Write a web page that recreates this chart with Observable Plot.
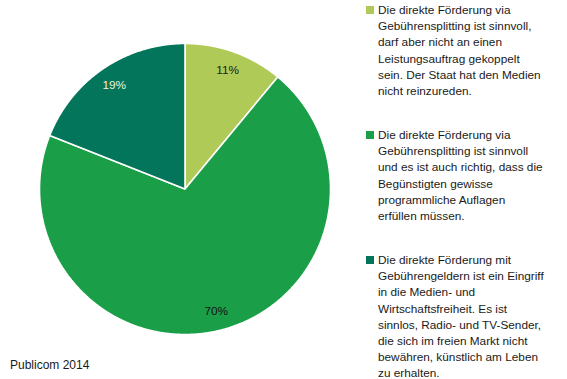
<!DOCTYPE html>
<html>
<head>
<meta charset="utf-8">
<script src="https://cdn.jsdelivr.net/npm/d3@7"></script>
<script src="https://cdn.jsdelivr.net/npm/@observablehq/plot@0.6"></script>
<style>
  html, body { margin: 0; padding: 0; background: #fff; }
  #wrap { position: relative; width: 567px; height: 379px; font-family: "Liberation Sans", Arial, sans-serif; color: #1a1a1a; }
  #wrap svg { position: absolute; left: 0; top: 0; }
  .leg { position: absolute; left: 366px; font-size: 11.8px; line-height: 16.2px; }
  .leg .sw { position: absolute; left: 0; top: 4px; width: 8px; height: 8px; }
  .leg .tx { margin-left: 12px; width: 200px; white-space: nowrap; }
  #src { position: absolute; left: 10px; top: 358px; font-size: 12px; }
</style>
</head>
<body>
<div id="wrap"></div>
<script>
const categories = [
  "Die direkte Förderung via Gebührensplitting ist sinnvoll, darf aber nicht an einen Leistungsauftrag gekoppelt sein. Der Staat hat den Medien nicht reinzureden.",
  "Die direkte Förderung via Gebührensplitting ist sinnvoll und es ist auch richtig, dass die Begünstigten gewisse programmliche Auflagen erfüllen müssen.",
  "Die direkte Förderung mit Gebührengeldern ist ein Eingriff in die Medien- und Wirtschaftsfreiheit. Es ist sinnlos, Radio- und TV-Sender, die sich im freien Markt nicht bewähren, künstlich am Leben zu erhalten."
];
const legendLines = [
  ["Die direkte Förderung via", "Gebührensplitting ist sinnvoll,", "darf aber nicht an einen", "Leistungsauftrag gekoppelt", "sein. Der Staat hat den Medien", "nicht reinzureden."],
  ["Die direkte Förderung via", "Gebührensplitting ist sinnvoll", "und es ist auch richtig, dass die", "Begünstigten gewisse", "programmliche Auflagen", "erfüllen müssen."],
  ["Die direkte Förderung mit", "Gebührengeldern ist ein Eingriff", "in die Medien- und", "Wirtschaftsfreiheit. Es ist", "sinnlos, Radio- und TV-Sender,", "die sich im freien Markt nicht", "bewähren, künstlich am Leben", "zu erhalten."]
];
const shares = [11, 70, 19];
const valueLabels = ["11%", "70%", "19%"];
const colors = ["#afca57", "#1a9f48", "#03755a"];
const labelColors = ["#222222", "#111111", "#f4f1d0"];
const source = "Publicom 2014";

const arcs = d3.pie().sort(null).value(d => d)(shares);
const slicePts = [];
arcs.forEach((a, i) => {
  slicePts.push({cat: categories[i], x: 0, y: 0});
  const n = Math.max(2, Math.ceil((a.endAngle - a.startAngle) / 0.005));
  for (let k = 0; k <= n; k++) {
    const t = a.startAngle + (a.endAngle - a.startAngle) * k / n;
    slicePts.push({cat: categories[i], x: Math.sin(t), y: Math.cos(t)});
  }
});
const labelPts = arcs.map((a, i) => {
  const m = (a.startAngle + a.endAngle) / 2;
  return {label: valueLabels[i], x: 0.865 * Math.sin(m), y: 0.865 * Math.cos(m), c: labelColors[i]};
});

const chart = Plot.plot({
  width: 567, height: 379,
  margin: 0,
  x: {domain: [-1, 1], range: [39, 330], axis: null},
  y: {domain: [-1, 1], range: [334, 43], axis: null},
  color: {domain: categories, range: colors},
  marks: [
    Plot.line(slicePts, {x: "x", y: "y", z: "cat", fill: "cat", stroke: "#ffffff", strokeWidth: 1.6, curve: "linear-closed", strokeLinejoin: "miter"}),
    Plot.text(labelPts, {x: "x", y: "y", text: "label", fill: d => d.c, fontSize: 11.8, fontFamily: "Liberation Sans, Arial, sans-serif"})
  ]
});

const wrap = document.getElementById("wrap");
wrap.appendChild(chart);
const tops = [2, 127, 252];
legendLines.forEach((lines, i) => {
  const d = document.createElement("div");
  d.className = "leg";
  d.style.top = tops[i] + "px";
  d.innerHTML = `<div class="sw" style="background:${colors[i]}"></div><div class="tx">${lines.join("<br>")}</div>`;
  wrap.appendChild(d);
});
const s = document.createElement("div");
s.id = "src";
s.textContent = source;
wrap.appendChild(s);
</script>
</body>
</html>
